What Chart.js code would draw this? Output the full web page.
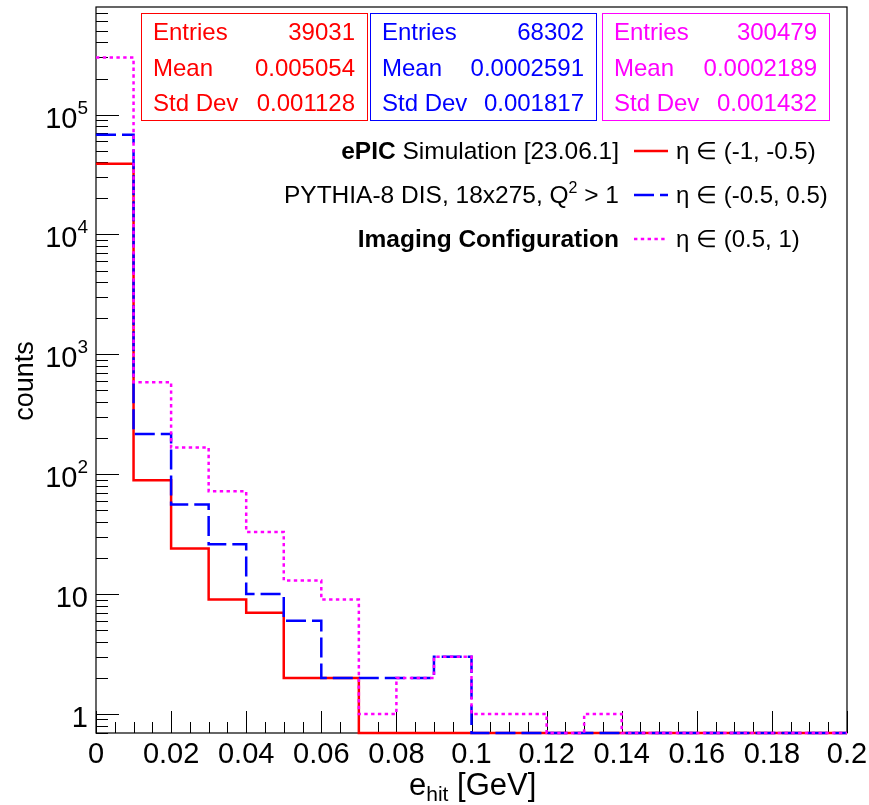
<!DOCTYPE html>
<html>
<head>
<meta charset="utf-8">
<script src="https://cdn.jsdelivr.net/npm/chart.js@4.4.0/dist/chart.umd.min.js"></script>
<style>
  html, body { margin: 0; padding: 0; background: #fff; }
</style>
</head>
<body>
<canvas id="ehit" width="869" height="805"></canvas>
<script>
// lower edges of the 0.01 GeV bins
const binEdges = [0, 0.01, 0.02, 0.03, 0.04, 0.05, 0.06, 0.07, 0.08, 0.09,
                  0.10, 0.11, 0.12, 0.13, 0.14, 0.15, 0.16, 0.17, 0.18, 0.19];
const xMax = 0.2;

// hit counts per bin, one array per eta slice
const countsBackward = [38900, 89, 24, 9, 7, 2, 2, 0, 0, 0, 0, 0, 0, 0, 0, 0, 0, 0, 0, 0];
const countsCentral  = [68000, 217, 56, 26, 10, 6, 2, 2, 2, 3, 0, 0, 0, 0, 0, 0, 0, 0, 0, 0];
const countsForward  = [299600, 585, 167, 72, 33, 13, 9, 1, 2, 3, 1, 1, 0, 1, 0, 0, 0, 0, 0, 0];

const seriesLabels = ["η ∈ (-1, -0.5)", "η ∈ (-0.5, 0.5)", "η ∈ (0.5, 1)"];
const seriesColors = ["#ff0000", "#0000ff", "#ff00ff"];

// stat box contents
const statEntries = ["39031", "68302", "300479"];
const statMean    = ["0.005054", "0.0002591", "0.0002189"];
const statStdDev  = ["0.001128", "0.001817", "0.001432"];

// axis ticks
const xTickLabels = ["0", "0.02", "0.04", "0.06", "0.08", "0.1", "0.12", "0.14", "0.16", "0.18", "0.2"];
const yTickValues = [1, 10, 100, 1000, 10000, 100000];
const yTickExp    = [null, null, "2", "3", "4", "5"];
const yMin = 0.694;
const yMax = 7.9e5;

const FONT = "'Liberation Sans', Arial, Helvetica, sans-serif";
const dashes = [[], [20, 6], [3.4, 3.4]];

// zero bins sit on the bottom of the frame like ROOT does on a log axis
function histPoints(counts) {
  const pts = binEdges.map((e, i) => ({ x: e, y: counts[i] > 0 ? counts[i] : yMin }));
  pts.push({ x: xMax, y: yMin });
  return pts;
}

// draw a list of text runs (font, text, dy) starting at x, or ending at x
function drawRuns(ctx, runs, x, baseline, align) {
  let w = 0;
  runs.forEach(r => { ctx.font = r.font; w += ctx.measureText(r.text).width; });
  let cx = align === "right" ? x - w : (align === "center" ? x - w / 2 : x);
  ctx.textAlign = "left";
  ctx.textBaseline = "alphabetic";
  runs.forEach(r => {
    ctx.font = r.font;
    ctx.fillText(r.text, cx, baseline + (r.dy || 0));
    cx += ctx.measureText(r.text).width;
  });
}

const frameAndTicks = {
  id: "frameAndTicks",
  beforeDatasetsDraw(chart) {
    const { ctx, chartArea: a, scales: { x, y } } = chart;
    ctx.save();
    ctx.strokeStyle = "#000";
    ctx.lineWidth = 1.2;
    ctx.strokeRect(a.left, a.top, a.right - a.left, a.bottom - a.top);

    ctx.lineWidth = 1;
    ctx.beginPath();
    // x: minor every 0.005, major every 0.02
    for (let k = 0; k <= 40; k++) {
      const px = Math.round(x.getPixelForValue(k * 0.005)) + 0.5;
      const len = k % 4 === 0 ? 22 : 11;
      ctx.moveTo(px, a.bottom);
      ctx.lineTo(px, a.bottom - len);
    }
    // y: decades long, 2..9 short
    for (let d = -1; d <= 5; d++) {
      for (let m = 1; m <= 9; m++) {
        const v = m * Math.pow(10, d);
        if (v < yMin || v > yMax) continue;
        const py = Math.round(y.getPixelForValue(v)) + 0.5;
        const len = m === 1 ? 23 : 12;
        ctx.moveTo(a.left, py);
        ctx.lineTo(a.left + len, py);
      }
    }
    ctx.stroke();
    ctx.restore();
  },
  afterDraw(chart) {
    const { ctx, chartArea: a, scales: { x, y } } = chart;
    ctx.save();
    ctx.fillStyle = "#000";

    // x tick labels
    ctx.font = "29px " + FONT;
    ctx.textAlign = "center";
    ctx.textBaseline = "alphabetic";
    xTickLabels.forEach(t => {
      ctx.fillText(t, x.getPixelForValue(parseFloat(t)), 763);
    });

    // y tick labels
    yTickValues.forEach((v, i) => {
      const py = y.getPixelForValue(v);
      const runs = [{ font: "29px " + FONT, text: yTickExp[i] ? "10" : String(v) }];
      if (yTickExp[i]) runs.push({ font: "19px " + FONT, text: yTickExp[i], dy: -14 });
      drawRuns(ctx, runs, 88, py + 13, "right");
    });

    // axis titles
    drawRuns(ctx, [
      { font: "31px " + FONT, text: "e" },
      { font: "21px " + FONT, text: "hit", dy: 6 },
      { font: "31px " + FONT, text: " [GeV]" }
    ], 409, 795, "left");

    ctx.save();
    ctx.translate(33, 381);
    ctx.rotate(-Math.PI / 2);
    ctx.font = "27px " + FONT;
    ctx.textAlign = "center";
    ctx.textBaseline = "alphabetic";
    ctx.fillText("counts", 0, 0);
    ctx.restore();

    // stat boxes
    const boxes = [[141, 13, 367, 120], [370, 13, 596, 120], [602, 13, 829, 120]];
    boxes.forEach((b, i) => {
      ctx.fillStyle = "#fff";
      ctx.fillRect(b[0], b[1], b[2] - b[0], b[3] - b[1]);
      ctx.strokeStyle = seriesColors[i];
      ctx.lineWidth = 1;
      ctx.strokeRect(b[0] + 0.5, b[1] + 0.5, b[2] - b[0], b[3] - b[1]);
      ctx.fillStyle = seriesColors[i];
      ctx.font = "24px " + FONT;
      const rows = [["Entries", statEntries[i]], ["Mean", statMean[i]], ["Std Dev", statStdDev[i]]];
      rows.forEach((r, j) => {
        const base = 40 + j * 35.7;
        ctx.textAlign = "left";
        ctx.fillText(r[0], b[0] + 12, base);
        ctx.textAlign = "right";
        ctx.fillText(r[1], b[2] - 12, base);
      });
    });

    // legend: description on the left, line samples and labels on the right
    ctx.fillStyle = "#000";
    const legBase = [159, 203, 247];
    const LF = "24.5px " + FONT;
    drawRuns(ctx, [
      { font: "bold " + LF, text: "ePIC" },
      { font: LF, text: " Simulation [23.06.1]" }
    ], 619, legBase[0], "right");
    drawRuns(ctx, [
      { font: LF, text: "PYTHIA-8 DIS, 18x275, Q" },
      { font: "16px " + FONT, text: "2", dy: -10 },
      { font: LF, text: " > 1" }
    ], 619, legBase[1], "right");
    drawRuns(ctx, [{ font: "bold " + LF, text: "Imaging Configuration" }], 619, legBase[2], "right");

    chart.data.datasets.forEach((ds, i) => {
      const ly = legBase[i] - 8;
      ctx.strokeStyle = ds.borderColor;
      ctx.lineWidth = ds.borderWidth;
      ctx.setLineDash(ds.borderDash);
      ctx.beginPath();
      ctx.moveTo(634, ly);
      ctx.lineTo(668, ly);
      ctx.stroke();
      ctx.setLineDash([]);
      ctx.fillStyle = "#000";
      ctx.font = "24px " + FONT;
      ctx.textAlign = "left";
      ctx.fillText(seriesLabels[i], 676, legBase[i]);
    });
    ctx.restore();
  }
};

const allCounts = [countsBackward, countsCentral, countsForward];

new Chart(document.getElementById("ehit"), {
  type: "line",
  data: {
    datasets: allCounts.map((c, i) => ({
      label: seriesLabels[i],
      data: histPoints(c),
      borderColor: seriesColors[i],
      borderWidth: 2.5,
      borderDash: dashes[i],
      stepped: "before",
      fill: false,
      pointRadius: 0,
      clip: false,
      order: 2 - i
    }))
  },
  options: {
    responsive: false,
    animation: false,
    events: [],
    layout: { padding: { left: 96, top: 7, right: 22, bottom: 72 } },
    plugins: {
      legend: { display: false },
      tooltip: { enabled: false }
    },
    scales: {
      x: { type: "linear", min: 0, max: xMax, display: false },
      y: { type: "logarithmic", min: yMin, max: yMax, display: false }
    }
  },
  plugins: [frameAndTicks]
});
</script>
</body>
</html>
